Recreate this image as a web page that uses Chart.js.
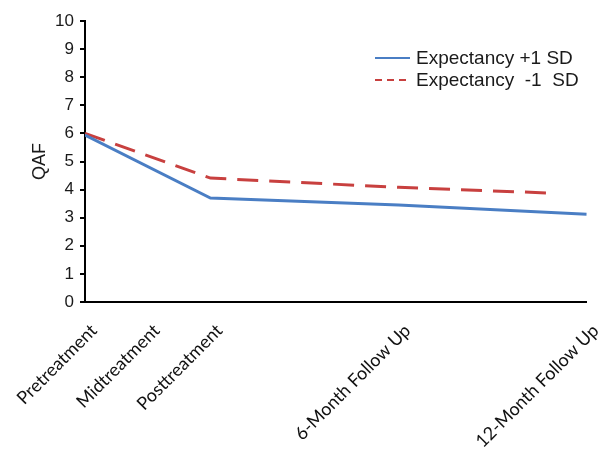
<!DOCTYPE html>
<html>
<head>
<meta charset="utf-8">
<script src="https://cdn.jsdelivr.net/npm/chart.js@4/dist/chart.umd.min.js"></script>
<style>
  html, body { margin: 0; padding: 0; background: #fff; }
  #wrap { width: 612px; height: 453px; position: relative; }
</style>
</head>
<body>
<div id="wrap"><canvas id="qafChart"></canvas></div>
<script>
// time points (months from pretreatment) and their labels
const timeLabels = ['Pretreatment', 'Midtreatment', 'Posttreatment', '6-Month Follow Up', '12-Month Follow Up'];
const timeMonths = [0, 2, 4, 10, 16];

// Expectancy +1 SD
const plusMonths = [0, 4, 10, 16];
const plusValues = [5.94, 3.70, 3.45, 3.12];

// Expectancy -1 SD
const minusMonths = [0, 4, 10, 15];
const minusValues = [6.00, 4.41, 4.08, 3.87];

const yTicks = [0, 1, 2, 3, 4, 5, 6, 7, 8, 9, 10];

const toPoints = (xs, ys) => xs.map((x, i) => ({ x: x, y: ys[i] }));

// simple two-row legend drawn inside the plot, top right
const legendBox = {
  id: 'legendBox',
  afterDraw(chart) {
    const ctx = chart.ctx;
    ctx.save();
    ctx.font = '19px "Liberation Sans", Arial, sans-serif';
    ctx.fillStyle = '#1a1a1a';
    ctx.textBaseline = 'middle';
    chart.data.datasets.forEach((ds, i) => {
      const y = 58 + i * 22;
      ctx.beginPath();
      ctx.strokeStyle = ds.borderColor;
      ctx.lineWidth = 2;
      ctx.setLineDash(ds.borderDash ? [7, 5] : []);
      ctx.moveTo(375, y);
      ctx.lineTo(410, y);
      ctx.stroke();
      ctx.setLineDash([]);
      ctx.fillText(ds.label, 416, y + 1);
    });
    ctx.restore();
  }
};

const ctx = document.getElementById('qafChart').getContext('2d');
new Chart(ctx, {
  type: 'line',
  data: {
    datasets: [{
      label: 'Expectancy +1 SD',
      data: toPoints(plusMonths, plusValues),
      borderColor: '#4a7ec4',
      borderWidth: 3,
      pointRadius: 0,
      tension: 0,
      fill: false
    }, {
      label: 'Expectancy  -1  SD',
      data: toPoints(minusMonths, minusValues),
      borderColor: '#c8403f',
      borderWidth: 3,
      borderDash: [21, 11],
      pointRadius: 0,
      tension: 0,
      fill: false
    }]
  },
  options: {
    responsive: true,
    maintainAspectRatio: false,
    animation: false,
    layout: { padding: { top: 21, right: 15, left: 29, bottom: 0 } },
    plugins: {
      legend: { display: false },
      tooltip: { enabled: false }
    },
    scales: {
      x: {
        type: 'linear',
        min: 0,
        max: 16,
        afterBuildTicks: axis => { axis.ticks = timeMonths.map(v => ({ value: v })); },
        afterFit: axis => { axis.height = 151; },
        grid: { display: false },
        border: { display: true, color: '#000', width: 2 },
        ticks: {
          autoSkip: false,
          maxRotation: 45,
          minRotation: 45,
          padding: 10,
          labelOffset: 9,
          color: '#111',
          font: { family: 'Lato, "Open Sans", sans-serif', size: 18 },
          callback: value => timeLabels[timeMonths.indexOf(value)]
        }
      },
      y: {
        min: 0,
        max: 10,
        afterBuildTicks: axis => { axis.ticks = yTicks.map(v => ({ value: v })); },
        afterFit: axis => { axis.width = 56; },
        grid: { drawOnChartArea: false, drawTicks: true, tickLength: 5, color: '#000', lineWidth: 2 },
        border: { display: true, color: '#000', width: 2 },
        ticks: {
          padding: 6,
          color: '#1a1a1a',
          font: { family: '"Liberation Sans", Arial, sans-serif', size: 17 }
        },
        title: {
          display: true,
          text: 'QAF',
          color: '#1a1a1a',
          padding: { top: 0, bottom: 6 },
          font: { family: '"Liberation Sans", Arial, sans-serif', size: 18 }
        }
      }
    }
  },
  plugins: [legendBox]
});
</script>
</body>
</html>
